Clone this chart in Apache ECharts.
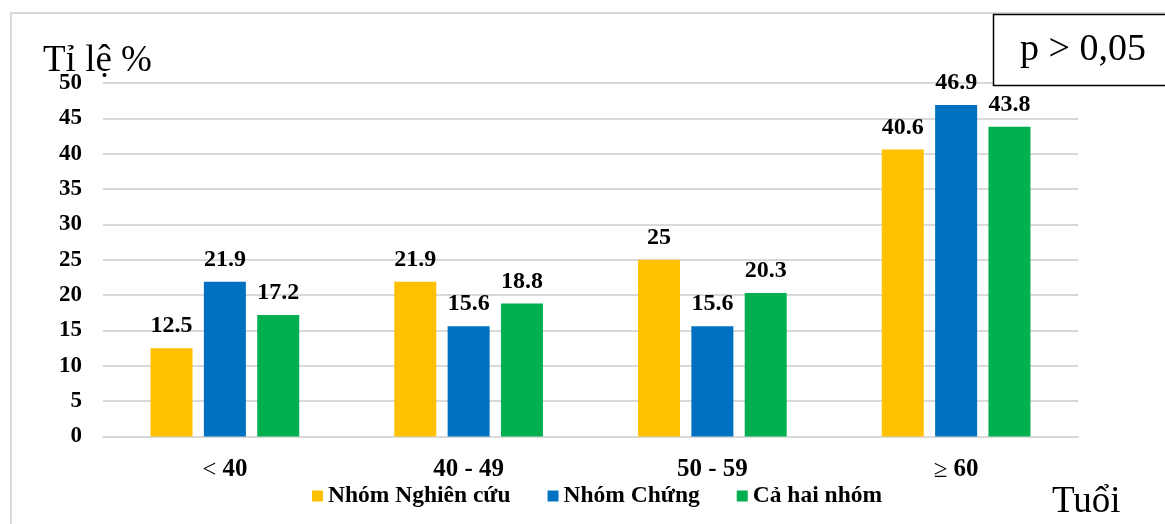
<!DOCTYPE html>
<html>
<head>
<meta charset="utf-8">
<script src="https://cdn.jsdelivr.net/npm/echarts@6/dist/echarts.min.js"></script>
<style>
  html, body { margin: 0; padding: 0; background: #fff; }
  #chart { width: 1165px; height: 524px; }
</style>
</head>
<body>
<div id="chart"></div>
<script>
// Age groups and the share (%) of each group per age band
const categories = ['< 40', '40 - 49', '50 - 59', '≥ 60'];
const seriesNames = ['Nhóm Nghiên cứu', 'Nhóm Chứng', 'Cả hai nhóm'];
const nghienCuu = [12.5, 21.9, 25, 40.6];
const chung = [21.9, 15.6, 15.6, 46.9];
const caHai = [17.2, 18.8, 20.3, 43.8];
const yTicks = [0, 5, 10, 15, 20, 25, 30, 35, 40, 45, 50];

const colors = ['#FFC000', '#0070C0', '#00B050'];
const serif = '"Liberation Serif", "Times New Roman", serif';

const chart = echarts.init(document.getElementById('chart'), null, { renderer: 'canvas' });

function barSeries(name, data, color) {
  return {
    name: name,
    type: 'bar',
    data: data,
    barWidth: 42,
    barGap: '27%',
    itemStyle: { color: color },
    label: {
      show: true,
      position: 'top',
      distance: 10,
      fontFamily: serif,
      fontWeight: 'bold',
      fontSize: 24,
      color: '#000',
      formatter: p => String(p.value)
    }
  };
}

chart.setOption({
  animation: false,
  backgroundColor: '#fff',
  grid: { left: 103, right: 87, top: 83, bottom: 87.5, containLabel: false },
  legend: {
    data: seriesNames,
    left: 312,
    top: 484,
    padding: 0,
    itemWidth: 11,
    itemHeight: 11,
    itemGap: 37,
    icon: 'rect',
    textStyle: { fontFamily: serif, fontWeight: 'bold', fontSize: 23.5, color: '#000' }
  },
  xAxis: {
    type: 'category',
    data: categories,
    axisLine: { lineStyle: { color: '#d9d9d9', width: 2 } },
    axisTick: { show: false },
    axisLabel: {
      margin: 21,
      fontFamily: serif,
      fontWeight: 'bold',
      fontSize: 25,
      color: '#000',
      formatter: v => {
        const m = v.match(/^([<≥])\s*(.*)$/);
        return m ? '{sym|' + m[1] + '} ' + m[2] : v;
      },
      rich: {
        sym: { fontFamily: serif, fontWeight: 'normal', fontSize: 25, color: '#000' }
      }
    }
  },
  yAxis: {
    type: 'value',
    min: yTicks[0],
    max: yTicks[yTicks.length - 1],
    interval: yTicks[1] - yTicks[0],
    axisLine: { show: false },
    axisTick: { show: false },
    splitLine: { lineStyle: { color: '#d9d9d9', width: 2 } },
    axisLabel: {
      margin: 21,
      fontFamily: serif,
      fontWeight: 'bold',
      fontSize: 23,
      color: '#000'
    }
  },
  series: [
    barSeries(seriesNames[0], nghienCuu, colors[0]),
    barSeries(seriesNames[1], chung, colors[1]),
    barSeries(seriesNames[2], caHai, colors[2])
  ],
  graphic: [
    // outer frame of the chart area
    {
      type: 'rect',
      shape: { x: 11, y: 13, width: 1170, height: 530 },
      style: { fill: 'none', stroke: '#d9d9d9', lineWidth: 2 },
      silent: true
    },
    // significance box
    {
      type: 'rect',
      shape: { x: 993.5, y: 14.5, width: 190, height: 71 },
      style: { fill: '#fff', stroke: '#000', lineWidth: 1.5 },
      z: 10
    },
    {
      type: 'text',
      style: {
        x: 1083, y: 50,
        text: 'p > 0,05',
        font: '38px ' + serif,
        fill: '#000',
        textAlign: 'center',
        textVerticalAlign: 'middle'
      },
      z: 11
    },
    // axis titles
    {
      type: 'text',
      style: {
        x: 43, y: 61,
        text: 'Tỉ lệ %',
        font: '37px ' + serif,
        fill: '#000',
        textAlign: 'left',
        textVerticalAlign: 'middle'
      }
    },
    {
      type: 'text',
      style: {
        x: 1052, y: 502,
        text: 'Tuổi',
        font: '37px ' + serif,
        fill: '#000',
        textAlign: 'left',
        textVerticalAlign: 'middle'
      }
    }
  ]
});
</script>
</body>
</html>
